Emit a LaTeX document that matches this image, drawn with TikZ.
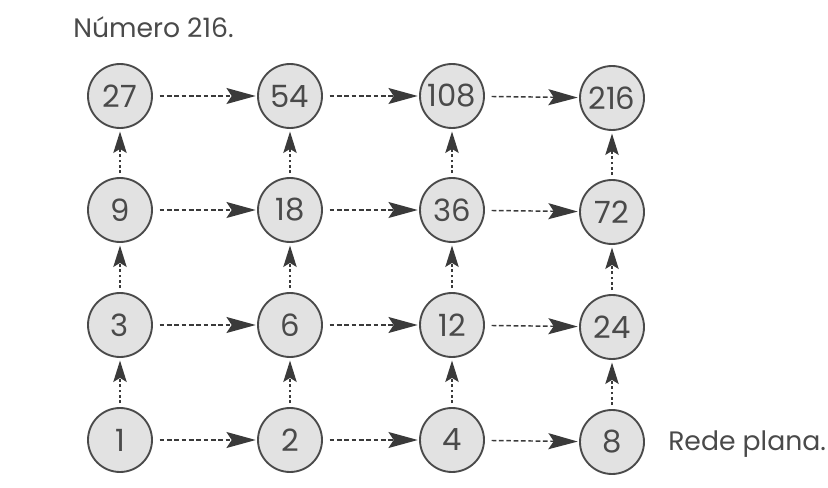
\documentclass[tikz,border=0pt]{standalone}
\usepackage{fontspec}
\setmainfont{Poppins}
\usetikzlibrary{arrows.meta}
\definecolor{ink}{HTML}{4A4A4A}
\definecolor{tip}{HTML}{3A3A3A}
\definecolor{disc}{HTML}{E2E2E2}
\tikzset{
  num/.style={circle, draw=ink, line width=1.4pt, fill=disc, minimum size=48pt, inner sep=0pt, text=ink, font=\fontsize{23}{23}\selectfont},
  harr/.style={draw=tip, line width=1.1pt, dash pattern=on 3.5pt off 2pt, -{Stealth[length=22pt, width=12pt, inset=4pt]}, shorten <=5pt, shorten >=1pt},
  varr/.style={draw=tip, line width=1.1pt, dash pattern=on 2pt off 2pt, -{Stealth[length=16pt, width=10pt, inset=3pt]}, shorten <=3pt, shorten >=2pt},
  lab/.style={text=ink, font=\fontsize{20}{20}\selectfont, inner sep=0pt}
}
\begin{document}
\begin{tikzpicture}[x=0.75pt, y=-0.75pt]
\useasboundingbox (0,0) rectangle (828,488);
\fill[white] (0,0) rectangle (828,488);
\node[lab, anchor=base west] (title) at (73,38) {Número 216.};
% row 4 (top)
\node[num] (n27) at (120,96) {27};
\node[num] (n54) at (290,96) {54};
\node[num] (n108) at (452,96) {108};
\node[num] (n216) at (612,98) {216};
% row 3
\node[num] (n9) at (120,210) {9};
\node[num] (n18) at (290,210) {18};
\node[num] (n36) at (452,210) {36};
\node[num] (n72) at (612,212) {72};
% row 2
\node[num] (n3) at (120,325) {3};
\node[num] (n6) at (290,325) {6};
\node[num] (n12) at (452,325) {12};
\node[num] (n24) at (612,327) {24};
% row 1
\node[num] (n1) at (120,440) {1};
\node[num] (n2) at (290,440) {2};
\node[num] (n4) at (452,440) {4};
\node[num] (n8) at (612,442) {8};
\node[lab, anchor=base west] (rede) at (668,450) {Rede plana.};
% horizontal arrows
\foreach \a/\b in {n27/n54,n54/n108,n108/n216,n9/n18,n18/n36,n36/n72,n3/n6,n6/n12,n12/n24,n1/n2,n2/n4,n4/n8}
  \draw[harr] (\a) -- (\b);
% vertical arrows
\foreach \a/\b in {n1/n3,n3/n9,n9/n27,n2/n6,n6/n18,n18/n54,n4/n12,n12/n36,n36/n108,n8/n24,n24/n72,n72/n216}
  \draw[varr] (\a) -- (\b);
\end{tikzpicture}
\end{document}
